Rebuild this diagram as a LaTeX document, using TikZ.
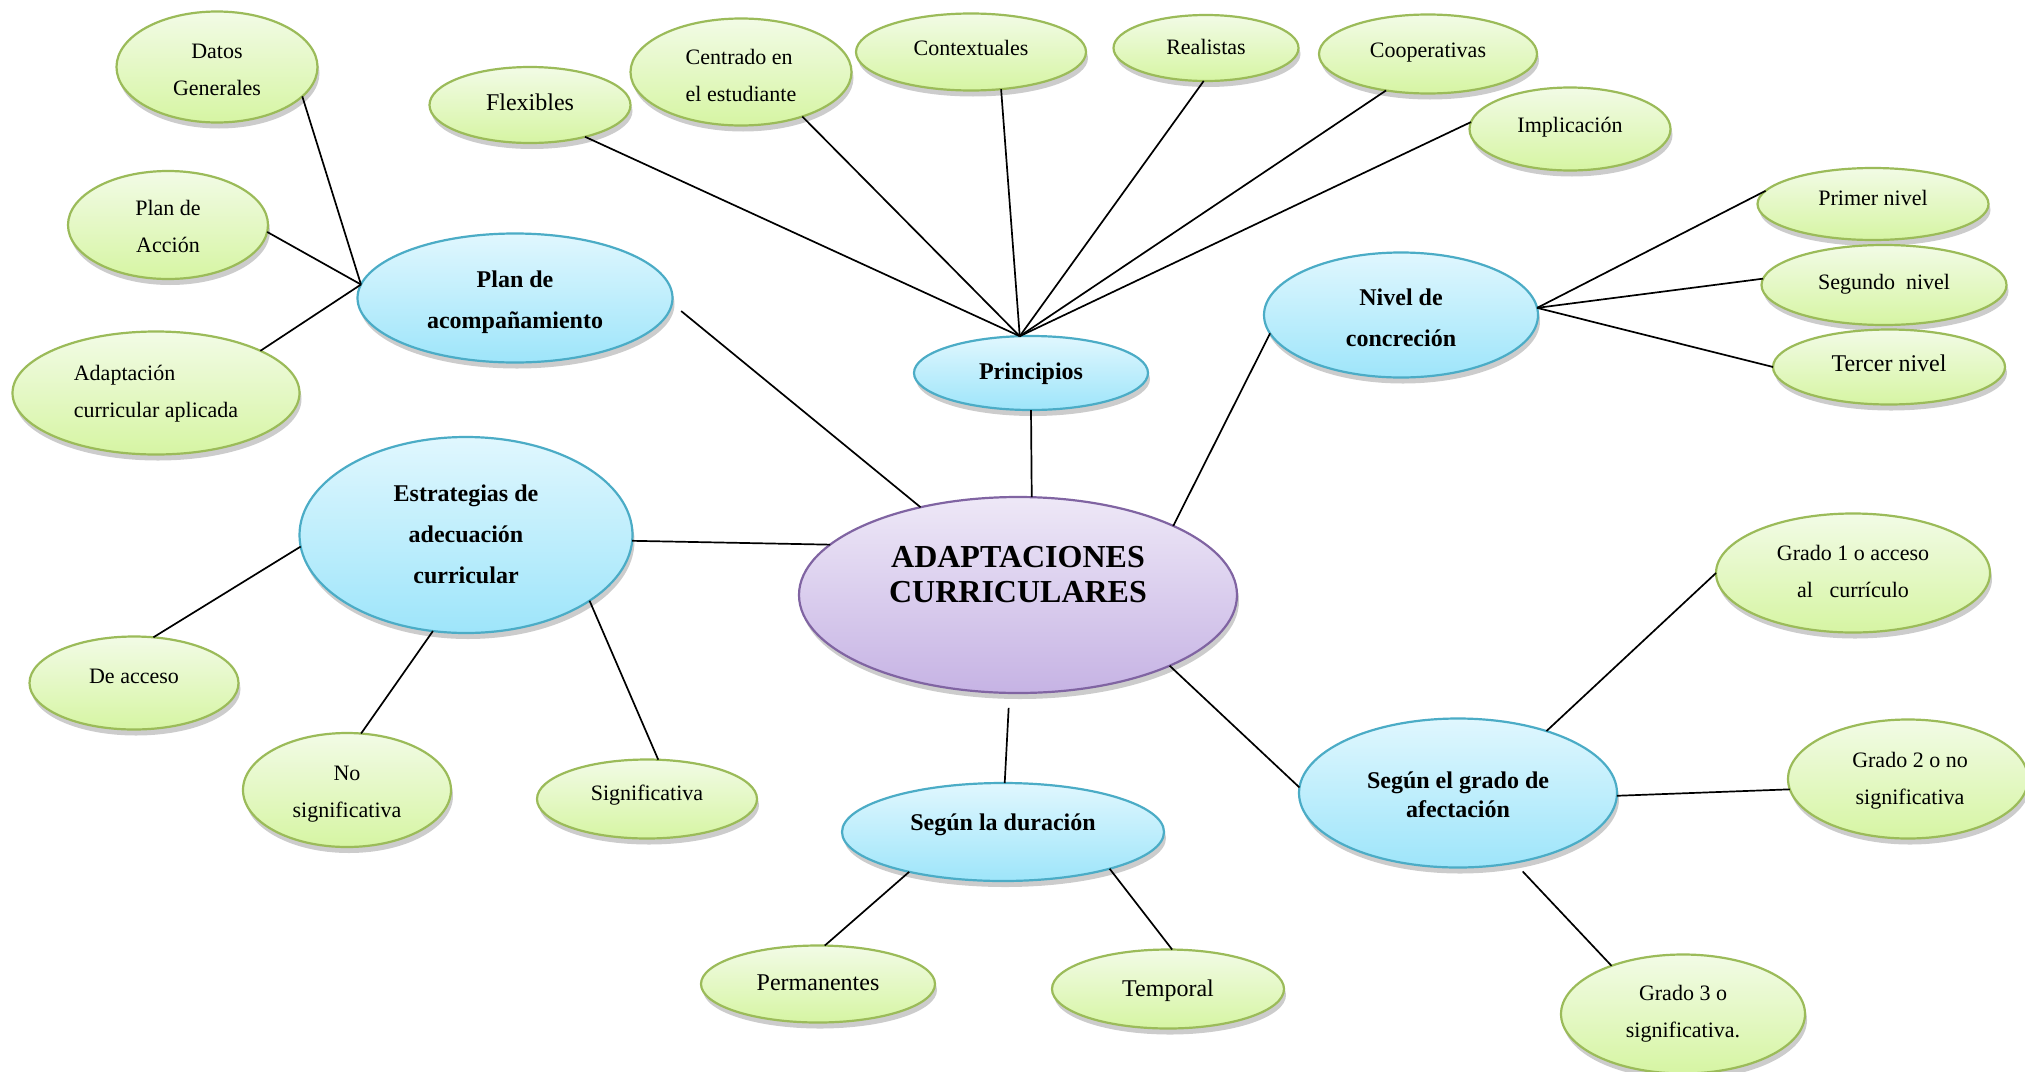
\documentclass[tikz,border=0pt]{standalone}
\usepackage{fontspec}
\setmainfont{Liberation Serif}
\usetikzlibrary{shapes.geometric,shadows}
\definecolor{gline}{HTML}{9BBB59}
\definecolor{gtop}{HTML}{F2FBE6}
\definecolor{gbot}{HTML}{D6F5A3}
\definecolor{bline}{HTML}{4BACC6}
\definecolor{btop}{HTML}{E0F7FE}
\definecolor{bbot}{HTML}{9EE5FA}
\definecolor{pline}{HTML}{8064A2}
\definecolor{ptop}{HTML}{EEE8F7}
\definecolor{pbot}{HTML}{C6B3E4}
\tikzset{
  base/.style={ellipse, inner sep=0pt, outer sep=0pt, line width=2.2pt,
    drop shadow={shadow xshift=2pt, shadow yshift=-6pt, opacity=0.2, fill=black}},
  gnode/.style={base, draw=gline, top color=gtop, bottom color=gbot},
  bnode/.style={base, draw=bline, top color=btop, bottom color=bbot},
  pnode/.style={base, draw=pline, top color=ptop, bottom color=pbot},
  sm/.style={font=\fontsize{22}{37}\selectfont, align=center},
  lg/.style={font=\fontsize{24}{37}\selectfont, align=center},
  bd/.style={font=\bfseries\fontsize{24}{41}\selectfont, align=center},
  conn/.style={line width=1.7pt, black},
}
\begin{document}
\begin{tikzpicture}[x=1pt,y=-1pt]
\useasboundingbox (0,0) rectangle (2025,1071);
\fill[white] (0,0) rectangle (2025,1071);

% ---------- green leaves ----------
\node[gnode, minimum width=201, minimum height=111, label={[sm, yshift=-2.5pt]center:Datos\\Generales}] (datos) at (217,67) {};
\node[gnode, minimum width=200, minimum height=108, label={[sm, yshift=-1.3pt]center:Plan de\\Acción}] (plan) at (168,225) {};
\node[gnode, minimum width=287, minimum height=123, label={[sm, align=left, yshift=-1pt]center:Adaptación\\curricular aplicada}] (adap) at (156,393) {};
\node[gnode, minimum width=201, minimum height=76, label={[lg, yshift=3pt]center:Flexibles}] (flex) at (530,105) {};
\node[gnode, minimum width=221, minimum height=107, label={[sm, align=left, yshift=-3pt]center:Centrado en\\el estudiante}] (cent) at (741,72) {};
\node[gnode, minimum width=230, minimum height=77, label={[sm, yshift=4pt]center:Contextuales}] (cont) at (971,52) {};
\node[gnode, minimum width=185, minimum height=66, label={[sm, yshift=1pt]center:Realistas}] (real) at (1206,48) {};
\node[gnode, minimum width=218, minimum height=79, label={[sm, yshift=1pt]center:Cooperativas}] (coop) at (1428,54) {};
\node[gnode, minimum width=201, minimum height=83, label={[sm, yshift=1.5pt]center:Implicación}] (impl) at (1570,129) {};
\node[gnode, minimum width=231, minimum height=72, label={[sm, yshift=6pt]center:Primer nivel}] (prim) at (1873,204) {};
\node[gnode, minimum width=245, minimum height=80, label={[sm, yshift=0.5pt]center:Segundo~ nivel}] (seg) at (1884,285) {};
\node[gnode, minimum width=232, minimum height=75, label={[lg, yshift=4pt]center:Tercer nivel}] (ter) at (1889,367) {};
\node[gnode, minimum width=274, minimum height=119, label={[sm, yshift=2pt]center:Grado 1 o acceso\\al~~~currículo}] (g1) at (1853,573) {};
\node[gnode, minimum width=240, minimum height=119, label={[sm, xshift=2pt, yshift=-1.3pt]center:Grado 2 o no\\significativa}] (g2) at (1908,779) {};
\node[gnode, minimum width=244, minimum height=119, label={[sm, yshift=0.5pt]center:Grado 3 o\\significativa.}] (g3) at (1683,1014) {};
\node[gnode, minimum width=232, minimum height=79, label={[lg, yshift=-1.5pt]center:Temporal}] (temp) at (1168,989) {};
\node[gnode, minimum width=234, minimum height=77, label={[lg, yshift=1.7pt]center:Permanentes}] (perm) at (818,984) {};
\node[gnode, minimum width=220, minimum height=79, label={[sm, yshift=3.5pt]center:Significativa}] (sig) at (647,799) {};
\node[gnode, minimum width=208, minimum height=114, label={[sm, yshift=-4.5pt]center:No\\significativa}] (nosig) at (347,790) {};
\node[gnode, minimum width=209, minimum height=93, label={[sm, yshift=6.7pt]center:De acceso}] (acc) at (134,683) {};

% ---------- blue branches ----------
\node[bnode, minimum width=315, minimum height=129, label={[bd, yshift=-4.5pt]center:Plan de\\acompañamiento}] (planac) at (515,298) {};
\node[bnode, minimum width=333, minimum height=196, label={[bd, yshift=0.7pt]center:Estrategias de\\adecuación\\curricular}] (est) at (466,535) {};
\node[bnode, minimum width=234, minimum height=74, label={[bd, yshift=-0.5pt]center:Principios}] (prin) at (1031,373) {};
\node[bnode, minimum width=274, minimum height=125, label={[bd, yshift=-2.5pt]center:Nivel de\\concreción}] (niv) at (1401,315) {};
\node[bnode, minimum width=318, minimum height=149, label={[font=\bfseries\fontsize{24}{28.5}\selectfont, align=center, yshift=-2pt]center:Según el grado de\\afectación}] (gra) at (1458,793) {};
\node[bnode, minimum width=322, minimum height=98, label={[bd, yshift=7pt]center:Según la duración}] (dur) at (1003,832) {};

% ---------- centre ----------
\node[pnode, minimum width=438, minimum height=196, label={[font=\bfseries\fontsize{32}{35}\selectfont, align=center, yshift=20.7pt]center:ADAPTACIONES\\CURRICULARES}] (center) at (1018,595) {};

% ---------- connectors ----------
\draw[conn] (datos.-19.5) -- (planac.175);
\draw[conn] (plan.-4) -- (planac.175);
\draw[conn] (adap.22) -- (planac.175);
\draw[conn, shorten <=12pt] (planac.-2) -- (center.138);

\draw[conn] (prin.107) -- (flex.-30);
\draw[conn] (prin.107) -- (cent.-36);
\draw[conn] (prin.107) -- (cont.-51);
\draw[conn] (prin.107) -- (real.-94);
\draw[conn] (prin.107) -- (coop.-139);
\draw[conn] (prin.107) -- (impl.176);
\draw[conn] (prin.south) -- (center.82.5);

\draw[conn] (niv.188) -- (center.24);
\draw[conn] (niv.3) -- (prim.173);
\draw[conn] (niv.3) -- (seg.177);
\draw[conn] (niv.3) -- (ter.180);

\draw[conn] (est.-2) -- (center.165);
\draw[conn] (est.184) -- (acc.67);
\draw[conn] (est.-109) -- (nosig.76);
\draw[conn] (est.-28) -- (sig.74);

\draw[conn] (center.-25) -- (gra.178);
\draw[conn] (gra.35) -- (g1.180);
\draw[conn] (gra.-1) -- (g2.185);
\draw[conn, shorten <=12pt] (gra.-51) -- (g3.146);

\draw[conn, shorten <=15pt] (center.-95) -- (dur.88);
\draw[conn] (dur.-157) -- (perm.80);
\draw[conn] (dur.-19) -- (temp.84);
\end{tikzpicture}
\end{document}
